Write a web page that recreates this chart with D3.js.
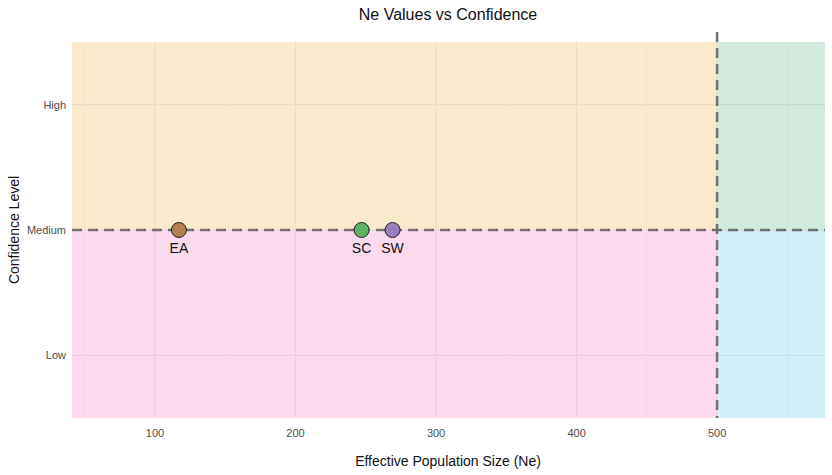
<!DOCTYPE html>
<html><head><meta charset="utf-8">
<script src="https://cdn.jsdelivr.net/npm/d3@7"></script>
<style>body{margin:0;background:#fff}text{font-family:"Liberation Sans",Arial,sans-serif}</style>
</head><body>
<svg id="c" width="832" height="475"></svg>
<script>
const labels=["EA","SC","SW"];
const neValues=[117,247,269];
const confidence=["Medium","Medium","Medium"];
const pointColors=["#b5804f","#5db462","#9a7fc0"];
const yCats=["Low","Medium","High"];
const xTicks=[100,200,300,400,500];
const xMinor=[50,150,250,350,450,550];
const threshold=500;

const svg=d3.select("#c");
const x=d3.scaleLinear().domain([40.9,576.8]).range([72,825]);
const yv=d3.scaleLinear().domain([0.5,3.5]).range([418,42]);
const yc=c=>yv(yCats.indexOf(c)+1);

// grid
const g=svg.append("g");
xMinor.forEach(v=>g.append("line").attr("x1",x(v)).attr("x2",x(v)).attr("y1",42).attr("y2",418).attr("stroke","#ebebeb").attr("stroke-width",0.6));
xTicks.forEach(v=>g.append("line").attr("x1",x(v)).attr("x2",x(v)).attr("y1",42).attr("y2",418).attr("stroke","#e3e3e3").attr("stroke-width",1.1));
yCats.forEach(c=>g.append("line").attr("x1",72).attr("x2",825).attr("y1",yc(c)).attr("y2",yc(c)).attr("stroke","#e3e3e3").attr("stroke-width",1.1));

// regions
const regions=[
 {x0:40.9,x1:threshold,y0:2,y1:3.5,fill:"#f5d597"},
 {x0:threshold,x1:576.8,y0:2,y1:3.5,fill:"#a8d5bd"},
 {x0:40.9,x1:threshold,y0:0.5,y1:2,fill:"#f9b3dc"},
 {x0:threshold,x1:576.8,y0:0.5,y1:2,fill:"#a9def2"}];
regions.forEach(r=>svg.append("rect").attr("x",x(r.x0)).attr("width",x(r.x1)-x(r.x0))
 .attr("y",yv(r.y1)).attr("height",yv(r.y0)-yv(r.y1)).attr("fill",r.fill).attr("opacity",0.5));

svg.append("line").attr("x1",72).attr("x2",825).attr("y1",yv(2)).attr("y2",yv(2)).attr("stroke","#707070").attr("stroke-width",2.5).attr("stroke-dasharray","10,6");
svg.append("line").attr("x1",x(threshold)).attr("x2",x(threshold)).attr("y1",32).attr("y2",418).attr("stroke","#707070").attr("stroke-width",2.5).attr("stroke-dasharray","10,6");

labels.forEach((l,i)=>{
 svg.append("circle").attr("cx",x(neValues[i])).attr("cy",yc(confidence[i])).attr("r",7.5).attr("fill",pointColors[i]).attr("stroke","#222").attr("stroke-width",1);
 svg.append("text").attr("x",x(neValues[i])).attr("y",yc(confidence[i])+23).attr("text-anchor","middle").attr("font-size",14).attr("fill","#111").text(l);
});

xTicks.forEach(v=>svg.append("text").attr("x",x(v)).attr("y",437).attr("text-anchor","middle").attr("font-size",11).attr("fill","#4d4d4d").text(v));
yCats.forEach(c=>svg.append("text").attr("x",66).attr("y",yc(c)+4).attr("text-anchor","end").attr("font-size",11).attr("fill","#4d4d4d").text(c));

svg.append("text").attr("x",448).attr("y",20).attr("text-anchor","middle").attr("font-size",16).attr("fill","#111").text("Ne Values vs Confidence");
svg.append("text").attr("x",448).attr("y",466).attr("text-anchor","middle").attr("font-size",14).attr("fill","#111").text("Effective Population Size (Ne)");
svg.append("text").attr("transform","translate(19,230) rotate(-90)").attr("text-anchor","middle").attr("font-size",14).attr("fill","#111").text("Confidence Level");
</script>
</body></html>
